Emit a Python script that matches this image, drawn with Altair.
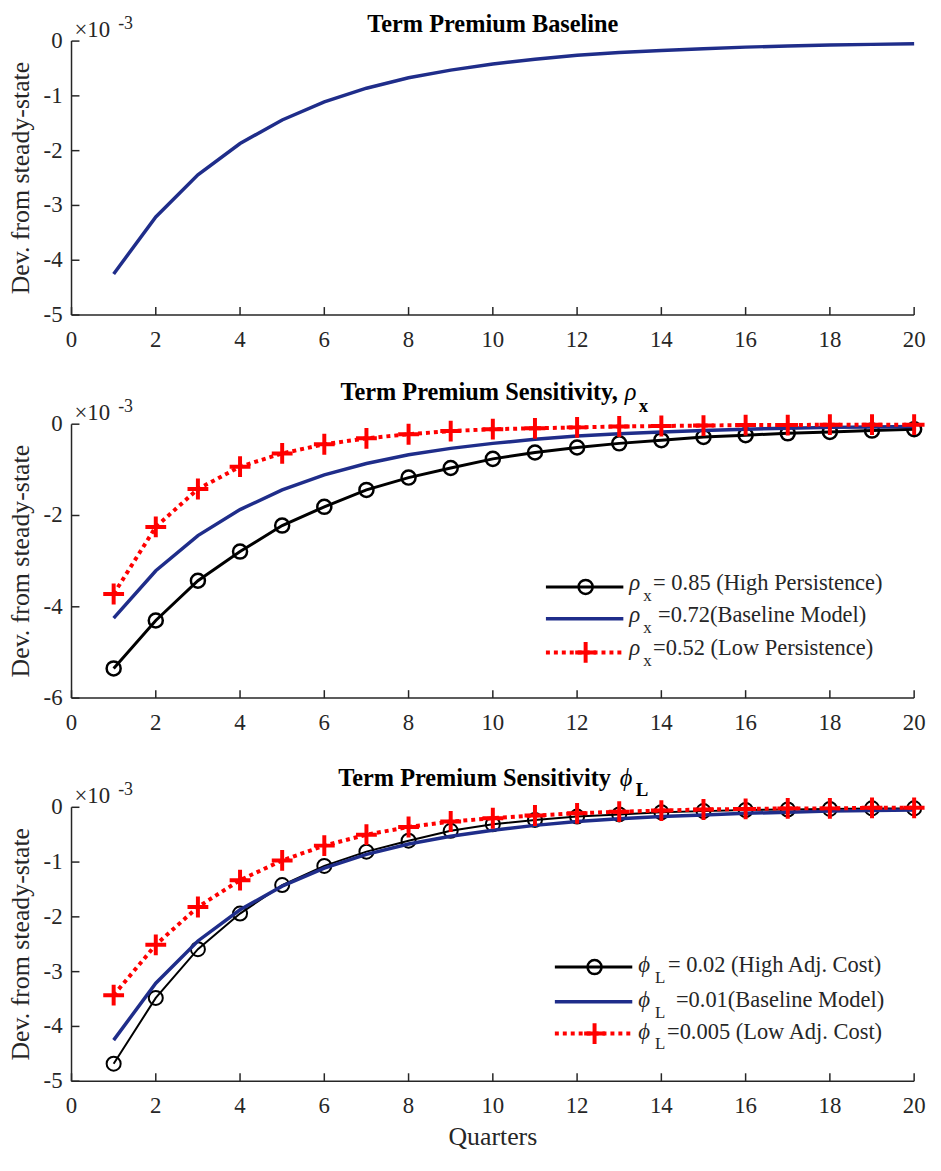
import altair as alt
import pandas as pd

FONT = "Liberation Serif"
AX = "#262626"
NAVY = "#1f2d8a"
RED = "#ff0000"
BLACK = "#000000"

# ---------------- data ----------------
quarters = list(range(1, 21))
baseline = [-4.25, -3.21, -2.44, -1.87, -1.44, -1.11, -0.86, -0.67, -0.53, -0.42,
            -0.33, -0.26, -0.21, -0.17, -0.14, -0.11, -0.09, -0.07, -0.06, -0.05]
high_persist = [-5.35, -4.30, -3.43, -2.79, -2.22, -1.81, -1.44, -1.17, -0.96, -0.76,
                -0.62, -0.51, -0.42, -0.35, -0.28, -0.24, -0.20, -0.17, -0.14, -0.11]
low_persist = [-3.72, -2.25, -1.42, -0.93, -0.64, -0.44, -0.31, -0.22, -0.15, -0.11,
               -0.09, -0.07, -0.05, -0.04, -0.03, -0.02, -0.02, -0.01, -0.01, -0.01]
high_adj = [-4.68, -3.48, -2.59, -1.94, -1.42, -1.07, -0.81, -0.61, -0.43, -0.31,
            -0.23, -0.17, -0.13, -0.09, -0.07, -0.05, -0.04, -0.03, -0.02, -0.02]
low_adj = [-3.43, -2.51, -1.82, -1.33, -0.97, -0.70, -0.50, -0.36, -0.26, -0.20,
           -0.15, -0.11, -0.08, -0.06, -0.04, -0.03, -0.02, -0.02, -0.01, -0.01]

x_ticks = list(range(0, 21, 2))
y_ticks_1 = [0, -1, -2, -3, -4, -5]
y_ticks_2 = [0, -2, -4, -6]
y_ticks_3 = [0, -1, -2, -3, -4, -5]

y_title = "Dev. from steady-state"
x_title = "Quarters"
titles = ["Term Premium Baseline", "Term Premium Sensitivity,", "Term Premium Sensitivity"]
legend_2 = ["= 0.85 (High Persistence)", "=0.72(Baseline Model)", "=0.52 (Low Persistence)"]
legend_3 = ["= 0.02 (High Adj. Cost)", "=0.01(Baseline Model)", "=0.005 (Low Adj. Cost)"]

W = 849
H = 276
C = W / 2
PLUS = "M-1,0L1,0M0,-1L0,1"
ONE = alt.Data(values=[{"a": 1}])


def sdf(vals):
    return pd.DataFrame({"q": quarters, "v": vals})


def txt(s, x, y, size, weight="normal", style="normal", align="left", color=AX, angle=0):
    kw = dict(text=s, font=FONT, fontSize=size, fontWeight=weight, fontStyle=style,
              align=align, baseline="alphabetic", color=color)
    if angle:
        kw["angle"] = angle
    return alt.Chart(ONE).mark_text(**kw).encode(x=alt.value(x), y=alt.value(y))


class Panel:
    def __init__(self, ymin, yticks):
        self.xs = alt.Scale(domain=[0, 20], nice=False, zero=False)
        self.ys = alt.Scale(domain=[ymin, 0], nice=False, zero=False)
        self.yticks = yticks

    def X(self):
        return alt.X("q:Q", scale=self.xs, axis=None)

    def Y(self):
        return alt.Y("v:Q", scale=self.ys, axis=None)

    def frame(self):
        dom_y = alt.Chart(ONE).mark_rule(color=AX, strokeWidth=1.5).encode(
            x=alt.value(0), y=alt.value(0), y2=alt.value(H))
        dom_x = alt.Chart(ONE).mark_rule(color=AX, strokeWidth=1.5).encode(
            x=alt.value(0), x2=alt.value(W), y=alt.value(H))
        yt = alt.Chart(pd.DataFrame({"v": self.yticks})).mark_rule(color=AX, strokeWidth=1.5).encode(
            y=self.Y(), x=alt.value(0), x2=alt.value(8))
        xt = alt.Chart(pd.DataFrame({"q": x_ticks})).mark_rule(color=AX, strokeWidth=1.5).encode(
            x=self.X(), y=alt.value(H), y2=alt.value(H - 8))
        ylab = alt.Chart(pd.DataFrame({"v": self.yticks, "t": [str(v) for v in self.yticks]})).mark_text(
            font=FONT, fontSize=23, color=AX, align="right", baseline="middle").encode(
            y=self.Y(), x=alt.value(-9), text="t:N")
        xlab = alt.Chart(pd.DataFrame({"q": x_ticks, "t": [str(v) for v in x_ticks]})).mark_text(
            font=FONT, fontSize=23, color=AX, align="center", baseline="alphabetic").encode(
            x=self.X(), y=alt.value(H + 32.5), text="t:N")
        ytitle = txt(y_title, -42.5, H / 2, 26, align="center", angle=270)
        expo1 = txt("×10", 3, -4, 23)
        expo2 = txt("-3", 47, -12, 18)
        return [dom_y, dom_x, yt, xt, ylab, xlab, ytitle, expo1, expo2]

    def line(self, vals, color, width, dash=None):
        kw = dict(color=color, strokeWidth=width, strokeCap="butt")
        if dash:
            kw["strokeDash"] = dash
        return alt.Chart(sdf(vals)).mark_line(**kw).encode(x=self.X(), y=self.Y())

    def points(self, vals, shape, color, size, width):
        return alt.Chart(sdf(vals)).mark_point(shape=shape, filled=False, color=color, size=size,
                                               strokeWidth=width, opacity=1).encode(
            x=self.X(), y=self.Y())


def legend(rows, sym, x0, x1, xm, ys, xsym, xsub, xtexts, dy, black_w):
    layers = []
    styles = [(BLACK, black_w, None), (NAVY, 3.5, None), (RED, 4, [4, 4])]
    for i, label in enumerate(rows):
        c, w, d = styles[i]
        kw = dict(color=c, strokeWidth=w, strokeCap="butt")
        if d:
            kw["strokeDash"] = d
        layers.append(alt.Chart(ONE).mark_rule(**kw).encode(
            x=alt.value(x0), x2=alt.value(x1), y=alt.value(ys[i])))
        if i == 0:
            layers.append(alt.Chart(ONE).mark_point(shape="circle", filled=False, color=BLACK,
                                                    size=200, strokeWidth=2.5, opacity=1).encode(
                x=alt.value(xm), y=alt.value(ys[i])))
        if i == 2:
            layers.append(alt.Chart(ONE).mark_point(shape=PLUS, filled=False, color=RED,
                                                    size=440, strokeWidth=4, opacity=1).encode(
                x=alt.value(xm), y=alt.value(ys[i])))
        layers.append(txt(sym[0], xsym, ys[i] + dy, 23, style="italic"))
        layers.append(txt(sym[1], xsub, ys[i] + dy + 11, 17))
        layers.append(txt(label, xtexts[i], ys[i] + dy, 22.6))
    return layers


# ---------------- panel 1 ----------------
P1 = Panel(-5, y_ticks_1)
p1 = alt.layer(
    P1.line(baseline, NAVY, 3.5),
    *P1.frame(),
    txt(titles[0], C, -9, 24.5, weight="bold", align="center", color=BLACK),
).properties(width=W, height=H)

# ---------------- panel 2 ----------------
P2 = Panel(-6, y_ticks_2)
p2 = alt.layer(
    P2.line(high_persist, BLACK, 3),
    P2.points(high_persist, "circle", BLACK, 200, 2.5),
    P2.line(baseline, NAVY, 3.5),
    P2.line(low_persist, RED, 4, [4, 4]),
    P2.points(low_persist, PLUS, RED, 440, 4),
    *P2.frame(),
    txt(titles[1], C + 126, -24, 24.5, weight="bold", align="right", color=BLACK),
    txt("ρ", C + 133, -24, 24.5, style="italic", color=BLACK),
    txt("x", C + 147, -12, 19, weight="bold", color=BLACK),
    *legend(legend_2, ("ρ", "x"), 478, 556, 518, [164, 196, 230], 562, 576,
            [586, 591, 586], 3, 3),
).properties(width=W, height=H)

# ---------------- panel 3 ----------------
P3 = Panel(-5, y_ticks_3)
p3 = alt.layer(
    P3.line(high_adj, BLACK, 2),
    P3.points(high_adj, "circle", BLACK, 200, 2),
    P3.line(baseline, NAVY, 3.5),
    P3.line(low_adj, RED, 4, [4, 4]),
    P3.points(low_adj, PLUS, RED, 440, 4),
    *P3.frame(),
    txt(titles[2], C + 119, -21, 24.5, weight="bold", align="right", color=BLACK),
    txt("ϕ", C + 128, -21, 24.5, style="italic", color=BLACK),
    txt("L", C + 144, -11, 19, weight="bold", color=BLACK),
    txt(x_title, C, H + 64, 26, align="center"),
    *legend(legend_3, ("ϕ", "L"), 487, 565, 527, [161, 196, 228], 571, 588,
            [601, 609, 600], 5, 3),
).properties(width=W, height=H)

chart = alt.vconcat(p1, p2, p3, spacing=110, bounds="flush").properties(
    padding={"left": 0, "top": 0, "right": 0, "bottom": 0}
).configure_view(stroke=None)

chart.save("out.html", embed_options={"renderer": "svg", "actions": False})
